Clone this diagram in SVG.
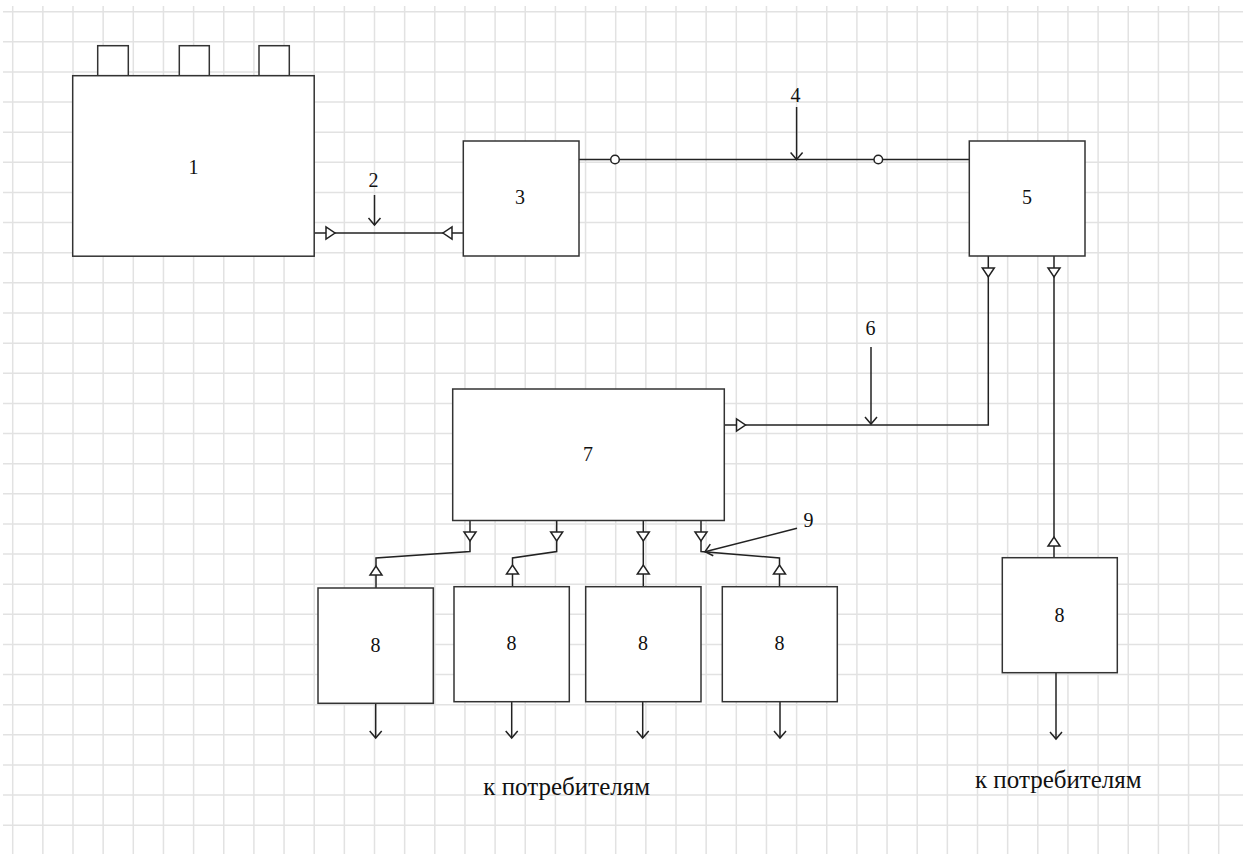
<svg xmlns="http://www.w3.org/2000/svg" xmlns:xlink="http://www.w3.org/1999/xlink" width="1249" height="854" viewBox="0 0 1249 854">
<style>
.grid{stroke:#e2e2e2;stroke-width:1.5;fill:none}
.box{fill:#ffffff;stroke:#333333;stroke-width:1.5}
.ln{fill:none;stroke:#222222;stroke-width:1.5}
.tri{fill:#ffffff;stroke:#222222;stroke-width:1.5;stroke-linejoin:miter}
.lbl{font-family:"Liberation Serif","Times New Roman",serif;font-size:20px;fill:#111111;text-anchor:middle}
.cap{font-family:"Liberation Serif","Times New Roman",serif;font-size:25px;fill:#111111;text-anchor:middle}
</style>
<defs>
<polygon id="tdown" class="tri" points="-6,0 6,0 0,9"/>
<polygon id="tup" class="tri" points="-6,0 6,0 0,-9"/>
<polygon id="tright" class="tri" points="0,-6 0,6 9,0"/>
<polygon id="tleft" class="tri" points="0,-6 0,6 -9,0"/>
<marker id="vhead" markerWidth="16" markerHeight="16" refX="8" refY="8" orient="auto" markerUnits="userSpaceOnUse">
<path d="M2,1 L8,8 L14,1" transform="rotate(-90 8 8)" fill="none" stroke="#222222" stroke-width="1.5"/>
</marker>
</defs>
<rect width="1249" height="854" fill="#ffffff"/>
<path class="grid" d="M12.7,6V854M42.85,6V854M73,6V854M103.15,6V854M133.3,6V854M163.45,6V854M193.6,6V854M223.75,6V854M253.9,6V854M284.05,6V854M314.2,6V854M344.35,6V854M374.5,6V854M404.65,6V854M434.8,6V854M464.95,6V854M495.1,6V854M525.25,6V854M555.4,6V854M585.55,6V854M615.7,6V854M645.85,6V854M676,6V854M706.15,6V854M736.3,6V854M766.45,6V854M796.6,6V854M826.75,6V854M856.9,6V854M887.05,6V854M917.2,6V854M947.35,6V854M977.5,6V854M1007.65,6V854M1037.8,6V854M1067.95,6V854M1098.1,6V854M1128.25,6V854M1158.4,6V854M1188.55,6V854M1218.7,6V854M3,11.7H1243M3,41.83H1243M3,71.96H1243M3,102.09H1243M3,132.22H1243M3,162.35H1243M3,192.48H1243M3,222.61H1243M3,252.74H1243M3,282.87H1243M3,313H1243M3,343.13H1243M3,373.26H1243M3,403.39H1243M3,433.52H1243M3,463.65H1243M3,493.78H1243M3,523.91H1243M3,554.04H1243M3,584.17H1243M3,614.3H1243M3,644.43H1243M3,674.56H1243M3,704.69H1243M3,734.82H1243M3,764.95H1243M3,795.08H1243M3,825.21H1243"/>

<g id="connectors">
  <!-- 2: between block 1 and block 3 -->
  <path class="ln" d="M314,233H463"/>
  <use xlink:href="#tright" x="326" y="233"/>
  <use xlink:href="#tleft" x="452" y="233"/>
  <!-- 4: block 3 to block 5 -->
  <path class="ln" d="M579,159.5H969"/>
  <circle cx="615" cy="159.5" r="4.3" fill="#ffffff" stroke="#222222" stroke-width="1.5"/>
  <circle cx="878.3" cy="159.5" r="4.3" fill="#ffffff" stroke="#222222" stroke-width="1.5"/>
  <!-- 6: block 5 to block 7 -->
  <path class="ln" d="M988.3,256V425H724"/>
  <use xlink:href="#tdown" x="988.3" y="268"/>
  <use xlink:href="#tright" x="736.5" y="425"/>
  <!-- block 5 to right block 8 -->
  <path class="ln" d="M1054,256V558"/>
  <use xlink:href="#tdown" x="1054" y="268"/>
  <use xlink:href="#tup" x="1054" y="546"/>
  <!-- block 7 to bottom blocks 8 -->
  <path class="ln" d="M470,520V551.5L376,558V588"/>
  <use xlink:href="#tdown" x="470" y="532"/>
  <use xlink:href="#tup" x="376" y="575"/>
  <path class="ln" d="M556.7,520V551.5L512.5,558V586.5"/>
  <use xlink:href="#tdown" x="556.7" y="532"/>
  <use xlink:href="#tup" x="512.5" y="574"/>
  <path class="ln" d="M643.3,520V586.5"/>
  <use xlink:href="#tdown" x="643.3" y="532"/>
  <use xlink:href="#tup" x="643.3" y="574"/>
  <path class="ln" d="M701,520V551.5L779.5,558V586.5"/>
  <use xlink:href="#tdown" x="701" y="532"/>
  <use xlink:href="#tup" x="779.5" y="574"/>
  <!-- outputs to consumers -->
  <path class="ln" d="M375.7,703V738" marker-end="url(#vhead)"/>
  <path class="ln" d="M511.7,701.5V738" marker-end="url(#vhead)"/>
  <path class="ln" d="M642.7,701.5V738" marker-end="url(#vhead)"/>
  <path class="ln" d="M780,701.5V738" marker-end="url(#vhead)"/>
  <path class="ln" d="M1056,673V739" marker-end="url(#vhead)"/>
  <!-- callout arrows -->
  <path class="ln" d="M374.5,195V225" marker-end="url(#vhead)"/>
  <path class="ln" d="M796.6,107V159.5" marker-end="url(#vhead)"/>
  <path class="ln" d="M871,347V424" marker-end="url(#vhead)"/>
  <path class="ln" d="M797,528.3L705,551.7" marker-end="url(#vhead)"/>
</g>

<g id="node1">
  <rect class="box" x="97.7" y="45.7" width="30.6" height="30"/>
  <rect class="box" x="179.3" y="45.7" width="30" height="30"/>
  <rect class="box" x="259" y="45.7" width="30.3" height="30"/>
  <rect class="box" x="72.7" y="75.7" width="241.5" height="180.5"/>
  <text class="lbl" x="193.5" y="174">1</text>
</g>
<g id="node3">
  <rect class="box" x="463.3" y="141" width="115.7" height="115"/>
  <text class="lbl" x="520" y="204">3</text>
</g>
<g id="node5">
  <rect class="box" x="969.3" y="141" width="115.7" height="115"/>
  <text class="lbl" x="1027" y="204">5</text>
</g>
<g id="node7">
  <rect class="box" x="452.7" y="389" width="271.6" height="131.5"/>
  <text class="lbl" x="588" y="461">7</text>
</g>
<g id="node8a">
  <rect class="box" x="318" y="588" width="115.3" height="115.3"/>
  <text class="lbl" x="375.5" y="652">8</text>
</g>
<g id="node8b">
  <rect class="box" x="454" y="586.7" width="115.3" height="115"/>
  <text class="lbl" x="511.5" y="650">8</text>
</g>
<g id="node8c">
  <rect class="box" x="585.7" y="586.7" width="115.3" height="115"/>
  <text class="lbl" x="643" y="650">8</text>
</g>
<g id="node8d">
  <rect class="box" x="722.3" y="586.7" width="115" height="115"/>
  <text class="lbl" x="779.5" y="650">8</text>
</g>
<g id="node8e">
  <rect class="box" x="1002.3" y="557.7" width="115" height="115"/>
  <text class="lbl" x="1059.5" y="622">8</text>
</g>
<g id="labels">
  <text class="lbl" x="373.5" y="187">2</text>
  <text class="lbl" x="795.5" y="102">4</text>
  <text class="lbl" x="870.5" y="335">6</text>
  <text class="lbl" x="808.5" y="527">9</text>
  <text class="cap" x="566.7" y="795">к потребителям</text>
  <text class="cap" x="1058.3" y="787.5">к потребителям</text>
</g>
</svg>
